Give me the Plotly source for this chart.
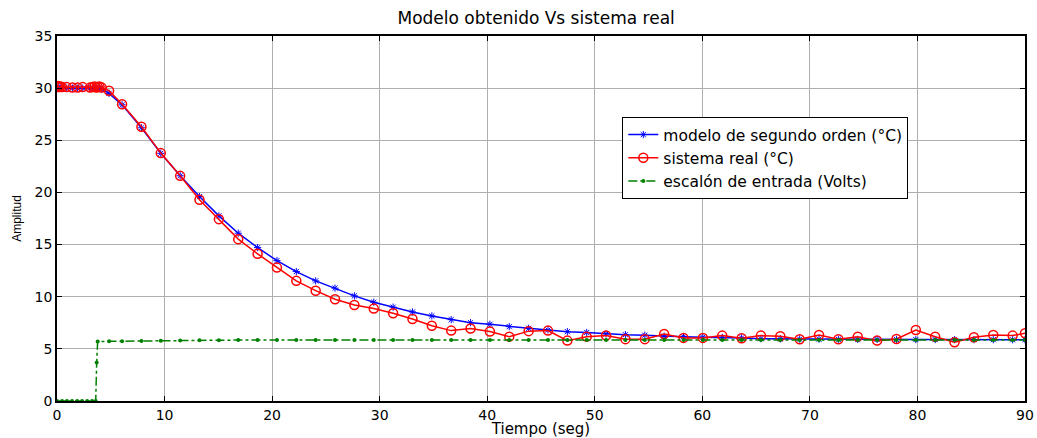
import plotly.graph_objects as go

# ---- data ----
t_early = [0, 0.1, 0.2, 0.3, 0.45, 0.9, 1.43, 1.92, 2.39, 3.07, 3.3, 3.5, 3.65, 3.8, 3.95, 4.16, 4.84]
t_grid = [6.05, 7.85, 9.65, 11.45, 13.25, 15.05, 16.85, 18.65, 20.45, 22.25,
          24.05, 25.85, 27.65, 29.45, 31.25, 33.05, 34.85, 36.65, 38.45, 40.25,
          42.05, 43.85, 45.65, 47.45, 49.25, 51.05, 52.85, 54.65, 56.45, 58.25,
          60.05, 61.85, 63.65, 65.45, 67.25, 69.05, 70.85, 72.65, 74.45, 76.25,
          78.05, 79.85, 81.65, 83.45, 85.25, 87.05, 88.85, 90.0]
tiempo = t_early + t_grid

modelo = [30.0, 30.0, 30.0, 30.0, 30.0, 30.0, 30.0, 30.0, 30.0, 30.0, 30.0, 30.0, 30.0, 30.0, 29.95, 29.9, 29.5,
          28.4, 26.2, 23.75, 21.6, 19.6, 17.75, 16.09, 14.71, 13.46, 12.41,
          11.52, 10.82, 10.08, 9.47, 9.0, 8.54, 8.16, 7.8, 7.51, 7.36,
          7.13, 6.97, 6.81, 6.65, 6.57, 6.43, 6.36, 6.31, 6.21, 6.17,
          6.11, 6.1, 6.05, 5.98, 5.96, 5.94, 5.93, 5.92, 5.91, 5.9,
          5.9, 5.89, 5.89, 5.88, 5.88, 5.88, 5.87, 5.87]

real = [30.15, 30.2, 30.1, 30.15, 30.1, 30.1, 30.05, 30.05, 30.1, 30.05, 30.1, 30.15, 30.05, 30.1, 30.15, 30.05, 29.75,
        28.45, 26.3, 23.77, 21.59, 19.29, 17.44, 15.52, 14.11, 12.79, 11.52,
        10.58, 9.76, 9.21, 8.86, 8.42, 7.87, 7.22, 6.75, 6.96, 6.67,
        6.17, 6.7, 6.75, 5.79, 6.17, 6.28, 5.93, 5.93, 6.43, 6.05,
        6.05, 6.27, 6.02, 6.27, 6.21, 5.92, 6.33, 5.92, 6.17, 5.79,
        5.95, 6.81, 6.17, 5.63, 6.11, 6.33, 6.27, 6.5]

t_escalon = [0, 0.47, 0.93, 1.4, 1.87, 2.33, 2.8, 3.26, 3.6, 3.69, 3.78, 4.84] + t_grid
escalon = [0, 0, 0, 0, 0, 0, 0, 0, 0, 3.7, 5.7, 5.72,
           5.74, 5.76, 5.78, 5.8, 5.82, 5.83, 5.84, 5.85, 5.85, 5.85,
           5.85, 5.85, 5.85, 5.85, 5.85, 5.85, 5.85, 5.85, 5.85, 5.85,
           5.85, 5.85, 5.85, 5.85, 5.85, 5.85, 5.85, 5.85, 5.85, 5.85,
           5.85, 5.85, 5.85, 5.85, 5.85, 5.85, 5.85, 5.85, 5.85, 5.85,
           5.85, 5.85, 5.85, 5.85, 5.85, 5.85, 5.85, 5.85]

x_ticks = [0, 10, 20, 30, 40, 50, 60, 70, 80, 90]
y_ticks = [0, 5, 10, 15, 20, 25, 30, 35]

title_text = "Modelo obtenido Vs sistema real"
x_label = "Tiempo (seg)"
y_label = "Amplitud"
names = ["modelo de segundo orden (°C)", "sistema real (°C)", "escalón de entrada (Volts)"]

WIDE = "DejaVu Sans, Verdana, sans-serif"
NARROW = "Liberation Sans, Arial, sans-serif"

fig = go.Figure()
fig.add_trace(go.Scatter(
    x=tiempo, y=modelo, name=names[0], mode="lines+markers",
    line=dict(color="#0000ff", width=1.5),
    marker=dict(symbol="asterisk-open", size=6, color="#0000ff", line=dict(color="#0000ff", width=1)),
))
fig.add_trace(go.Scatter(
    x=tiempo, y=real, name=names[1], mode="lines+markers",
    line=dict(color="#ff0000", width=1.5),
    marker=dict(symbol="circle-open", size=9, color="#ff0000", line=dict(color="#ff0000", width=1.5)),
))
fig.add_trace(go.Scatter(
    x=t_escalon, y=escalon, name=names[2], mode="lines+markers",
    line=dict(color="#008000", width=1.5, dash="dashdot"),
    marker=dict(symbol="circle", size=4, color="#008000"),
))

axis_common = dict(
    showline=True, linecolor="black", linewidth=1.5, mirror="ticks",
    ticks="inside", ticklen=5, tickcolor="black",
    showgrid=True, gridcolor="#b0b0b0", gridwidth=1,
    zeroline=False, automargin=False,
    tickfont=dict(family=WIDE, size=14, color="black"),
)

fig.update_xaxes(range=[0, 90], tickvals=x_ticks,
                 title=dict(text=x_label, font=dict(family=WIDE, size=15, color="black"), standoff=0),
                 **axis_common)
fig.update_yaxes(range=[0, 35], tickvals=y_ticks,
                 title=dict(text=y_label, font=dict(family=NARROW, size=12, color="black"), standoff=10),
                 **axis_common)

fig.update_layout(
    width=1037, height=438,
    margin=dict(l=57, r=12, t=36, b=37),
    paper_bgcolor="white", plot_bgcolor="white",
    title=dict(text=title_text, x=0.517, xanchor="center", y=0.958, yanchor="middle",
               font=dict(family=WIDE, size=17, color="black")),
    font=dict(family=WIDE, color="black"),
    legend=dict(x=0.584, y=0.778, xanchor="left", yanchor="top",
                bgcolor="white", bordercolor="black", borderwidth=1,
                font=dict(family=WIDE, size=15.5, color="black"),
                tracegroupgap=0, itemwidth=30),
    showlegend=True,
)

fig.write_html("out.html", config={"displayModeBar": False},
               post_script="document.body.style.margin='0px';document.body.style.overflow='hidden';")
